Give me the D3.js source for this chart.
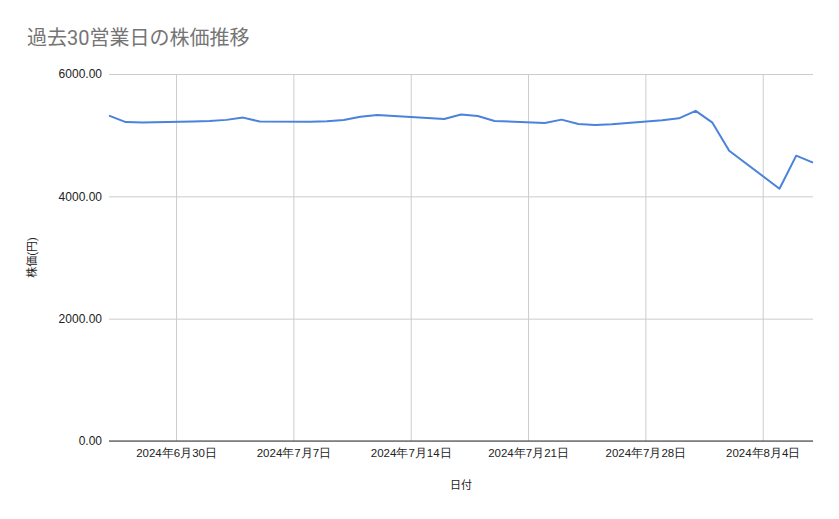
<!DOCTYPE html>
<html>
<head>
<meta charset="UTF-8">
<style>
  body { margin: 0; background: #fff; }
  svg { display: block; font-family: Roboto, "Noto Sans CJK JP", sans-serif; }
</style>
</head>
<body>
<svg></svg>
<script src="https://cdn.jsdelivr.net/npm/d3@7/dist/d3.min.js"></script>
<script>

const title = "過去30営業日の株価推移";
const xTitle = "日付";
const yTitle = "株価(円)";

// trading days (7/15 is a holiday)
const dates = [
  "2024-06-26", "2024-06-27", "2024-06-28",
  "2024-07-01", "2024-07-02", "2024-07-03", "2024-07-04", "2024-07-05",
  "2024-07-08", "2024-07-09", "2024-07-10", "2024-07-11", "2024-07-12",
  "2024-07-16", "2024-07-17", "2024-07-18", "2024-07-19",
  "2024-07-22", "2024-07-23", "2024-07-24", "2024-07-25", "2024-07-26",
  "2024-07-29", "2024-07-30", "2024-07-31", "2024-08-01", "2024-08-02",
  "2024-08-05", "2024-08-06", "2024-08-07"
];
const prices = [
  5320, 5214, 5207,
  5222, 5230, 5250, 5287, 5223,
  5221, 5228, 5248, 5302, 5330,
  5264, 5338, 5313, 5232,
  5198, 5254, 5183, 5166, 5177,
  5245, 5275, 5398, 5204, 4746,
  4125, 4665, 4552
];
const yTicks = [0, 2000, 4000, 6000];

const width = 839, height = 519;
const margin = {top: 74, right: 26, bottom: 78, left: 109};

const svg = d3.select("svg")
  .attr("width", width)
  .attr("height", height);

const parse = d3.timeParse("%Y-%m-%d");
const data = dates.map((d, i) => ({date: parse(d), value: prices[i]}));

const x = d3.scaleTime()
  .domain(d3.extent(data, d => d.date))
  .range([margin.left, width - margin.right]);
const y = d3.scaleLinear()
  .domain([0, 6000])
  .range([height - margin.bottom, margin.top]);

const fmtDate = d => `${d.getFullYear()}年${d.getMonth() + 1}月${d.getDate()}日`;

// y grid + labels
const yAxis = svg.append("g")
  .attr("transform", `translate(${margin.left},0)`)
  .call(d3.axisLeft(y).tickValues(yTicks).tickFormat(d3.format(".2f"))
    .tickSize(-(width - margin.left - margin.right)).tickPadding(7));
yAxis.select(".domain").remove();
yAxis.selectAll(".tick line").attr("stroke", "#cccccc");
yAxis.selectAll(".tick text").attr("fill", "#222").style("font-size", "12px");

// x grid + labels (weekly, Sundays)
const xAxis = svg.append("g")
  .attr("transform", `translate(0,${height - margin.bottom})`)
  .call(d3.axisBottom(x).ticks(d3.timeWeek.every(1)).tickFormat(fmtDate)
    .tickSize(-(height - margin.top - margin.bottom)).tickPadding(8));
xAxis.select(".domain").remove();
xAxis.selectAll(".tick line").attr("stroke", "#cccccc");
xAxis.selectAll(".tick text").attr("fill", "#222").style("font-size", "11.5px");

// baseline
svg.append("line")
  .attr("x1", margin.left).attr("x2", width - margin.right)
  .attr("y1", y(0)).attr("y2", y(0))
  .attr("stroke", "#333").attr("stroke-width", 1);

// price line
svg.append("path")
  .datum(data)
  .attr("fill", "none")
  .attr("stroke", "#4a82dc")
  .attr("stroke-width", 2)
  .attr("stroke-linejoin", "round")
  .attr("d", d3.line().x(d => x(d.date)).y(d => y(d.value)));

// titles
svg.append("text")
  .attr("x", 27).attr("y", 45)
  .attr("fill", "#757575")
  .style("font-size", "20px")
  .text(title);

svg.append("text")
  .attr("x", (margin.left + width - margin.right) / 2)
  .attr("y", 489)
  .attr("text-anchor", "middle")
  .attr("fill", "#222")
  .style("font-size", "11px")
  .text(xTitle);

svg.append("text")
  .attr("transform", `translate(36,${(margin.top + height - margin.bottom) / 2}) rotate(-90)`)
  .attr("text-anchor", "middle")
  .attr("fill", "#222")
  .style("font-size", "11px")
  .text(yTitle);

</script>
</body>
</html>
